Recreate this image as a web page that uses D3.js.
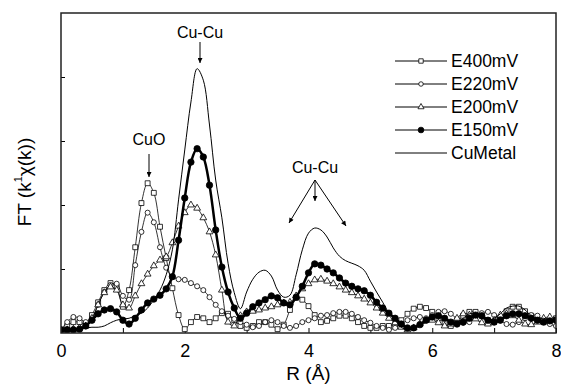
<!DOCTYPE html>
<html>
<head>
<meta charset="utf-8">
<script src="https://cdn.jsdelivr.net/npm/d3@7"></script>
<style>
  body { margin: 0; background: #fff; }
  text { font-family: Arial, "Liberation Sans", sans-serif; fill: #000; }
</style>
</head>
<body>
<svg id="chart" width="561" height="384"></svg>
<script>
// R grid (Å)
const rValues = [0.0,0.1,0.2,0.3,0.4,0.5,0.6,0.7,0.8,0.9,1.0,1.1,1.2,1.3,1.4,1.5,1.6,1.7,1.8,1.9,
  2.0,2.1,2.2,2.3,2.4,2.5,2.6,2.7,2.8,2.9,3.0,3.1,3.2,3.3,3.4,3.5,3.6,3.7,3.8,3.9,
  4.0,4.1,4.2,4.3,4.4,4.5,4.6,4.7,4.8,4.9,5.0,5.1,5.2,5.3,5.4,5.5,5.6,5.7,5.8,5.9,
  6.0,6.1,6.2,6.3,6.4,6.5,6.6,6.7,6.8,6.9,7.0,7.1,7.2,7.3,7.4,7.5,7.6,7.7,7.8,7.9,8.0];

// FT magnitude, arbitrary units (one y tick = 1)
const e400 = [0.05,0.11,0.17,0.17,0.14,0.28,0.48,0.67,0.78,0.72,0.41,0.67,1.34,2.03,2.34,2.19,1.66,1.17,0.70,0.28,
  0.06,0.17,0.25,0.23,0.17,0.23,0.31,0.30,0.20,0.11,0.08,0.11,0.17,0.17,0.13,0.06,0.13,0.36,0.55,0.52,
  0.42,0.28,0.17,0.19,0.23,0.27,0.27,0.23,0.17,0.11,0.08,0.08,0.11,0.11,0.14,0.20,0.30,0.38,0.41,0.39,
  0.33,0.23,0.16,0.11,0.17,0.27,0.33,0.33,0.27,0.20,0.17,0.23,0.34,0.41,0.41,0.34,0.27,0.20,0.17,0.19,0.23];

const e220 = [0.05,0.17,0.25,0.23,0.17,0.23,0.44,0.64,0.75,0.77,0.58,0.52,1.06,1.58,1.88,1.73,1.34,1.02,0.88,0.84,
  0.83,0.78,0.73,0.67,0.56,0.44,0.34,0.27,0.22,0.17,0.13,0.09,0.11,0.17,0.20,0.17,0.11,0.08,0.11,0.17,
  0.20,0.23,0.27,0.28,0.31,0.33,0.33,0.30,0.25,0.20,0.16,0.11,0.08,0.05,0.08,0.14,0.20,0.23,0.25,0.23,
  0.28,0.33,0.34,0.30,0.22,0.16,0.17,0.25,0.31,0.33,0.28,0.20,0.14,0.13,0.17,0.23,0.28,0.27,0.20,0.14,0.11];

const e200 = [0.03,0.05,0.06,0.08,0.11,0.23,0.44,0.63,0.72,0.67,0.44,0.39,0.58,0.77,0.92,1.05,1.14,1.19,1.41,1.67,
  1.88,2.00,1.95,1.80,1.58,1.22,0.67,0.17,0.11,0.27,0.33,0.34,0.36,0.39,0.41,0.44,0.47,0.48,0.58,0.69,
  0.77,0.83,0.84,0.81,0.77,0.72,0.67,0.63,0.58,0.53,0.47,0.39,0.31,0.23,0.16,0.09,0.05,0.08,0.14,0.20,
  0.20,0.16,0.11,0.14,0.23,0.30,0.28,0.22,0.16,0.14,0.20,0.28,0.30,0.27,0.20,0.14,0.13,0.17,0.23,0.25,0.22];

const e150 = [0.05,0.05,0.05,0.06,0.11,0.20,0.30,0.36,0.38,0.33,0.20,0.14,0.23,0.36,0.47,0.53,0.59,0.69,0.88,1.45,
  2.11,2.67,2.88,2.75,2.31,1.61,1.03,0.64,0.39,0.23,0.31,0.41,0.47,0.52,0.58,0.55,0.47,0.44,0.56,0.73,
  0.94,1.08,1.06,1.00,0.94,0.86,0.78,0.73,0.69,0.66,0.59,0.48,0.39,0.31,0.23,0.14,0.08,0.08,0.13,0.20,
  0.25,0.27,0.23,0.17,0.14,0.17,0.23,0.28,0.27,0.20,0.17,0.20,0.27,0.30,0.30,0.27,0.23,0.20,0.17,0.19,0.20];

const cuMetal = [0.03,0.05,0.06,0.08,0.08,0.09,0.09,0.11,0.16,0.20,0.22,0.23,0.27,0.31,0.39,0.52,0.67,0.91,1.30,2.08,
  2.86,3.61,4.13,3.95,3.25,2.39,1.80,1.09,0.63,0.38,0.64,0.84,0.95,0.98,0.89,0.67,0.56,0.59,0.91,1.30,
  1.56,1.64,1.61,1.50,1.33,1.20,1.13,1.09,1.05,0.98,0.81,0.64,0.48,0.31,0.20,0.09,0.05,0.08,0.11,0.17,
  0.23,0.27,0.23,0.17,0.17,0.23,0.30,0.30,0.23,0.20,0.23,0.30,0.39,0.42,0.42,0.36,0.27,0.23,0.23,0.20,0.17];

const seriesNames = ['E400mV', 'E220mV', 'E200mV', 'E150mV', 'CuMetal'];
const xTicks = [0, 1, 2, 3, 4, 5, 6, 7, 8];
const yTicks = [1, 2, 3, 4];

const series = [
  {name: seriesNames[0], values: e400, symbol: d3.symbolSquare, size: 24, fill: '#fff', width: 0.8},
  {name: seriesNames[1], values: e220, symbol: d3.symbolCircle, size: 20, fill: '#fff', width: 0.8},
  {name: seriesNames[2], values: e200, symbol: d3.symbolTriangle, size: 20, fill: '#fff', width: 0.8},
  {name: seriesNames[3], values: e150, symbol: d3.symbolCircle, size: 32, fill: '#000', width: 2.5},
  {name: seriesNames[4], values: cuMetal, symbol: null, width: 1}
];

const svg = d3.select('#chart');
const plotL = 61, plotR = 556, plotT = 13, plotB = 333;

const x = d3.scaleLinear().domain([0, 8]).range([plotL, plotR]);
const y = d3.scaleLinear().domain([0, 5]).range([plotB, plotT]);

const defs = svg.append('defs');
defs.append('clipPath').attr('id', 'plotclip')
  .append('rect').attr('x', plotL).attr('y', plotT)
  .attr('width', plotR - plotL).attr('height', plotB - plotT);

defs.append('marker')
  .attr('id', 'arrow').attr('viewBox', '0 0 10 10')
  .attr('refX', 10).attr('refY', 5)
  .attr('markerWidth', 8).attr('markerHeight', 5)
  .attr('markerUnits', 'userSpaceOnUse')
  .attr('orient', 'auto')
  .append('path').attr('d', 'M0,0 L10,5 L0,10 Z').attr('fill', '#000');

// axes
const xAxis = d3.axisBottom(x)
  .tickValues(xTicks)
  .tickSizeInner(-5).tickSizeOuter(0)
  .tickPadding(11)
  .tickFormat(d => d % 2 === 0 ? d : '');
const gx = svg.append('g').attr('transform', `translate(0,${plotB})`).call(xAxis);
gx.select('.domain').remove();
gx.selectAll('text').attr('font-size', 18).attr('font-family', 'Arial, "Liberation Sans", sans-serif');
gx.selectAll('line').attr('stroke', '#000');

const yAxis = d3.axisLeft(y).tickValues(yTicks).tickSizeInner(-4).tickSizeOuter(0).tickFormat('');
const gy = svg.append('g').attr('transform', `translate(${plotL},0)`).call(yAxis);
gy.select('.domain').remove();
gy.selectAll('line').attr('stroke', '#000');

// curves
const plot = svg.append('g').attr('clip-path', 'url(#plotclip)');
const line = d3.line()
  .x((d, i) => x(rValues[i]))
  .y(d => y(d))
  .curve(d3.curveCatmullRom);

series.forEach(s => {
  const g = plot.append('g').attr('class', 'series');
  g.append('path')
    .attr('d', line(s.values))
    .attr('fill', 'none')
    .attr('stroke', '#000')
    .attr('stroke-width', s.width);
  if (s.symbol) {
    g.selectAll('path.pt').data(s.values).enter()
      .append('path').attr('class', 'pt')
      .attr('d', d3.symbol().type(s.symbol).size(s.size))
      .attr('transform', (d, i) => `translate(${x(rValues[i])},${y(d)})`)
      .attr('fill', s.fill)
      .attr('stroke', '#000')
      .attr('stroke-width', 0.8);
  }
});

// frame
svg.append('rect')
  .attr('x', plotL).attr('y', plotT)
  .attr('width', plotR - plotL).attr('height', plotB - plotT)
  .attr('fill', 'none').attr('stroke', '#222').attr('stroke-width', 1.5);

// axis titles
svg.append('text')
  .attr('x', (plotL + plotR) / 2).attr('y', 380)
  .attr('text-anchor', 'middle').attr('font-size', 19)
  .text('R (Å)');

const yt = svg.append('text')
  .attr('transform', 'translate(31,182) rotate(-90)')
  .attr('text-anchor', 'middle').attr('font-size', 19);
yt.append('tspan').text('FT (k');
yt.append('tspan').attr('font-size', 11).attr('dy', -9).text('1');
yt.append('tspan').attr('dy', 9).text('χ(k))');

// legend
const legend = svg.append('g');
series.forEach((s, i) => {
  const ly = 61 + i * 23;
  legend.append('line')
    .attr('x1', 395).attr('x2', 447).attr('y1', ly).attr('y2', ly)
    .attr('stroke', '#000').attr('stroke-width', 1);
  if (s.symbol) {
    legend.append('path')
      .attr('d', d3.symbol().type(s.symbol).size(s.size * 0.8))
      .attr('transform', `translate(421,${ly})`)
      .attr('fill', s.fill).attr('stroke', '#000').attr('stroke-width', 0.8);
  }
  legend.append('text')
    .attr('x', 451).attr('y', ly).attr('dy', '0.35em')
    .attr('font-size', 17.5)
    .text(s.name);
});

// annotations
const notes = svg.append('g');
function arrow(x1, y1, x2, y2) {
  notes.append('line')
    .attr('x1', x1).attr('y1', y1).attr('x2', x2).attr('y2', y2)
    .attr('stroke', '#000').attr('stroke-width', 1)
    .attr('marker-end', 'url(#arrow)');
}
notes.append('text').attr('x', 149).attr('y', 145).attr('text-anchor', 'middle').attr('font-size', 16).text('CuO');
arrow(149, 154, 149, 177);
notes.append('text').attr('x', 200).attr('y', 38).attr('text-anchor', 'middle').attr('font-size', 16).text('Cu-Cu');
arrow(200, 42, 200, 63);
notes.append('text').attr('x', 315).attr('y', 173).attr('text-anchor', 'middle').attr('font-size', 16).text('Cu-Cu');
arrow(315, 180, 289, 223);
arrow(315, 180, 315, 201);
arrow(315, 180, 346, 226);
</script>
</body>
</html>
